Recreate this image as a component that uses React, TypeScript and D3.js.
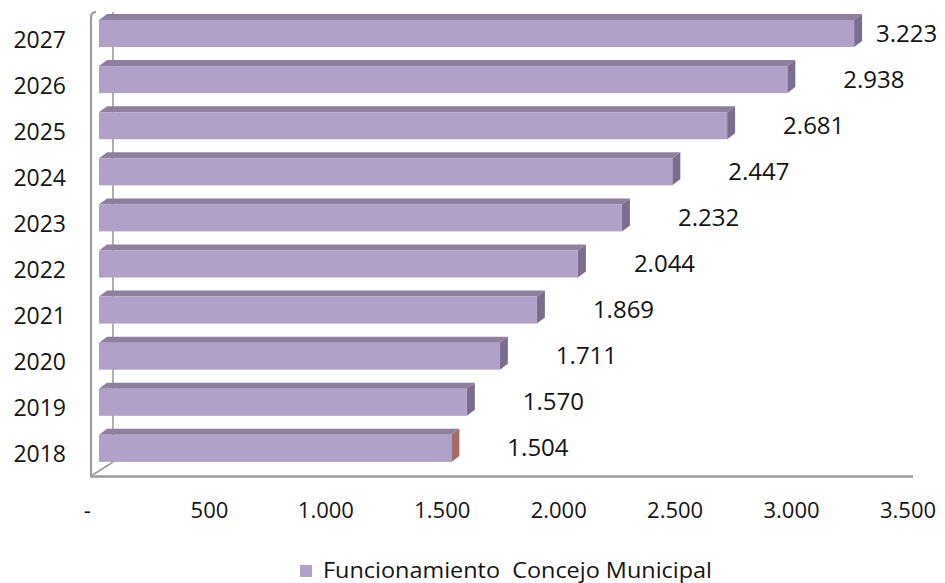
import React from "react";
import * as d3 from "d3";

const years = ["2018", "2019", "2020", "2021", "2022", "2023", "2024", "2025", "2026", "2027"];
const values = [1504, 1570, 1711, 1869, 2044, 2232, 2447, 2681, 2938, 3223];
const xTicks = [0, 500, 1000, 1500, 2000, 2500, 3000, 3500];
const seriesName = "Funcionamiento  Concejo Municipal";

const W = 945;
const H = 583;
const DX = 8;
const DY = -6;

const FRONT = "#b1a0c7";
const TOP = "#8d809f";
const SIDE = "#7b6d8f";
const SIDE_FIRST = "#a06b68";
const WALL = "#9c9c9c";
const TEXT = "#141414";
const FONT = "'Open Sans', 'Noto Sans', sans-serif";

const locale = d3.formatLocale({ decimal: ",", thousands: ".", grouping: [3], currency: ["", ""] });
const fmt = locale.format(",d");

export default function App() {
  const yScale = d3
    .scaleBand<string>()
    .domain([...years].reverse())
    .range([10.8, 471.1])
    .paddingInner(0.414)
    .paddingOuter(0.2);
  const xBar = d3.scaleLinear().domain([0, 3500]).range([99, 919]);
  const xAxis = d3.scaleLinear().domain([0, 3500]).range([93, 908]);

  const bh = yScale.bandwidth();

  return (
    <svg
      width={W}
      height={H}
      viewBox={`0 0 ${W} ${H}`}
      style={{ position: "absolute", left: 0, top: 0, background: "#fff", fontFamily: FONT }}
    >
      {/* walls */}
      <line x1={113} y1={12} x2={113} y2={462} stroke={WALL} strokeWidth={1.6} />
      <path d="M91,476 L91,18 Q91,12 96,12" fill="none" stroke={WALL} strokeWidth={2.2} />
      <line x1={91} y1={476} x2={113} y2={462} stroke={WALL} strokeWidth={1.6} />
      <line x1={90} y1={476.5} x2={913} y2={476.5} stroke={WALL} strokeWidth={2.4} />

      {/* bars */}
      {years.map((yr, i) => {
        const v = values[i];
        const y0 = yScale(yr)!;
        const y1 = y0 + bh;
        const x0 = xBar(0);
        const x1 = xBar(v);
        const top = `M${x0},${y0} L${x0 + DX},${y0 + DY} L${x1 + DX},${y0 + DY} L${x1},${y0} Z`;
        const side = `M${x1},${y0} L${x1 + DX},${y0 + DY} L${x1 + DX},${y1 + DY} L${x1},${y1} Z`;
        return (
          <g key={yr}>
            <path d={top} fill={TOP} />
            <path d={side} fill={i === 0 ? SIDE_FIRST : SIDE} />
            <rect x={x0} y={y0} width={x1 - x0} height={bh} fill={FRONT} />
          </g>
        );
      })}

      {/* value labels */}
      {years.map((yr, i) => {
        const v = values[i];
        const cy = yScale(yr)! + bh / 2;
        const lx = Math.min(xBar(v) + DX + 48, 876);
        return (
          <text key={yr} x={lx} y={cy + 8} fontSize={24} fill={TEXT}>
            {fmt(v)}
          </text>
        );
      })}

      {/* category labels */}
      {years.map((yr) => (
        <text
          key={yr}
          x={66}
          y={yScale(yr)! + bh / 2 + 14}
          fontSize={23}
          textAnchor="end"
          fill={TEXT}
        >
          {yr}
        </text>
      ))}

      {/* x tick labels */}
      {xTicks.map((t) => (
        <text key={t} x={xAxis(t)} y={518} fontSize={22} textAnchor="middle" fill={TEXT}>
          {t === 0 ? "-\u00A0\u00A0" : fmt(t)}
        </text>
      ))}

      {/* legend */}
      <rect x={300} y={565} width={12} height={12} fill={FRONT} />
      <text
        x={323}
        y={578}
        fontSize={21}
        fill={TEXT}
        textLength={389}
        lengthAdjust="spacingAndGlyphs"
        style={{ whiteSpace: "pre" }}
      >
        {seriesName}
      </text>
    </svg>
  );
}
